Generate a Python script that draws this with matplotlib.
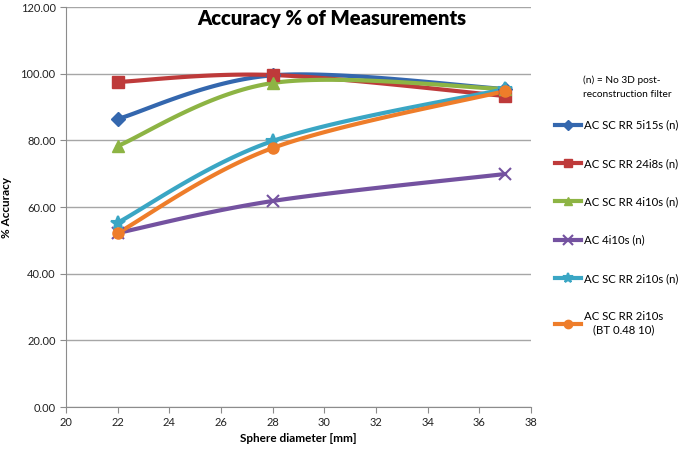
import numpy as np
import matplotlib
matplotlib.use("Agg")
import matplotlib.pyplot as plt
from matplotlib.lines import Line2D

plt.rcParams['font.family'] = ['Lato', 'DejaVu Sans']

diameters = [22, 28, 37]
labels = ["AC SC RR 5i15s (n)", "AC SC RR 24i8s (n)", "AC SC RR 4i10s (n)",
          "AC 4i10s (n)", "AC SC RR 2i10s (n)", "AC SC RR 2i10s\n(BT 0.48 10)"]
s_5i15s = [86.4, 99.5, 95.4]
s_24i8s = [97.5, 99.6, 93.3]
s_4i10s = [78.3, 97.2, 95.4]
s_ac4i10s = [52.2, 61.8, 69.9]
s_2i10s = [55.3, 79.8, 95.4]
s_2i10s_bt = [52.2, 77.7, 94.8]
series = [s_5i15s, s_24i8s, s_4i10s, s_ac4i10s, s_2i10s, s_2i10s_bt]
colors = ["#3467AE", "#BE3A3A", "#8DB444", "#7452A0", "#3AA6C4", "#EE7D2A"]
markers = ["D", "s", "^", "x", "*", "o"]
msizes = [7, 8, 8, 9, 10, 8]


def smooth(x, y, n=40):
    x = np.asarray(x, float)
    y = np.asarray(y, float)
    px = np.concatenate([[x[0]], x, [x[-1]]])
    py = np.concatenate([[y[0]], y, [y[-1]]])
    xs, ys = [], []
    t = np.linspace(0, 1, n)
    for i in range(1, len(px) - 2):
        p0 = np.array([px[i - 1], py[i - 1]])
        p1 = np.array([px[i], py[i]])
        p2 = np.array([px[i + 1], py[i + 1]])
        p3 = np.array([px[i + 2], py[i + 2]])
        c1 = p1 + (p2 - p0) / 6
        c2 = p2 - (p3 - p1) / 6
        b = ((1 - t) ** 3)[:, None] * p1 + (3 * (1 - t) ** 2 * t)[:, None] * c1 \
            + (3 * (1 - t) * t ** 2)[:, None] * c2 + (t ** 3)[:, None] * p2
        xs.append(b[:, 0])
        ys.append(b[:, 1])
    return np.concatenate(xs), np.concatenate(ys)


fig = plt.figure(figsize=(6.85, 4.54), dpi=100)
ax = fig.add_axes([66 / 685, 1 - 407 / 454, (531 - 66) / 685, 400 / 454])

handles = []
for vals, c, m, ms, lab in zip(series, colors, markers, msizes, labels):
    sx, sy = smooth(diameters, vals)
    ax.plot(sx, sy, color=c, lw=3, solid_capstyle='round', zorder=3)
    mew = 1.5 if m in ("x", "*") else 1
    ax.plot(diameters, vals, linestyle='none', marker=m, ms=ms, color=c,
            markeredgecolor=c, mew=mew, zorder=4)
    handles.append(Line2D([0], [0], color=c, lw=3, marker=m, ms=ms * 0.75, mew=mew, label=lab))

ax.set_xlim(20, 38)
ax.set_ylim(0, 120)
ax.set_xticks(np.arange(20, 39, 2))
ax.set_yticks(np.arange(0, 121, 20))
ax.set_yticklabels([f"{v:.2f}" for v in np.arange(0, 121, 20)])
ax.yaxis.grid(True, color="#A6A6A6", lw=1)
ax.set_axisbelow(True)
for sp in ["top", "right"]:
    ax.spines[sp].set_visible(False)
for sp in ["left", "bottom"]:
    ax.spines[sp].set_color("#8C8C8C")
ax.tick_params(axis='both', colors="#8C8C8C", labelcolor="#222222", labelsize=8, length=4)
ax.set_xlabel("Sphere diameter [mm]", fontsize=8.5, fontweight='bold', labelpad=3)
ax.set_ylabel("% Accuracy", fontsize=8.5, fontweight='bold', labelpad=6)

fig.text(332 / 685, 1 - 18 / 454, "Accuracy % of Measurements", ha='center', va='center',
         fontsize=14.5, fontweight='heavy')
fig.text(583 / 685, 1 - 87 / 454, "(n) = No 3D post-\nreconstruction filter", ha='left',
         va='center', fontsize=7.3, linespacing=1.7)

leg = fig.legend(handles=handles, loc='upper left', bbox_to_anchor=(550 / 685, 1 - 115 / 454),
                 frameon=False, fontsize=8.2, labelspacing=2.4, handlelength=2.3,
                 handletextpad=0.25, borderaxespad=0)
leg.get_texts()[-1].set_multialignment('center')

fig.savefig("out.png", dpi=100)
